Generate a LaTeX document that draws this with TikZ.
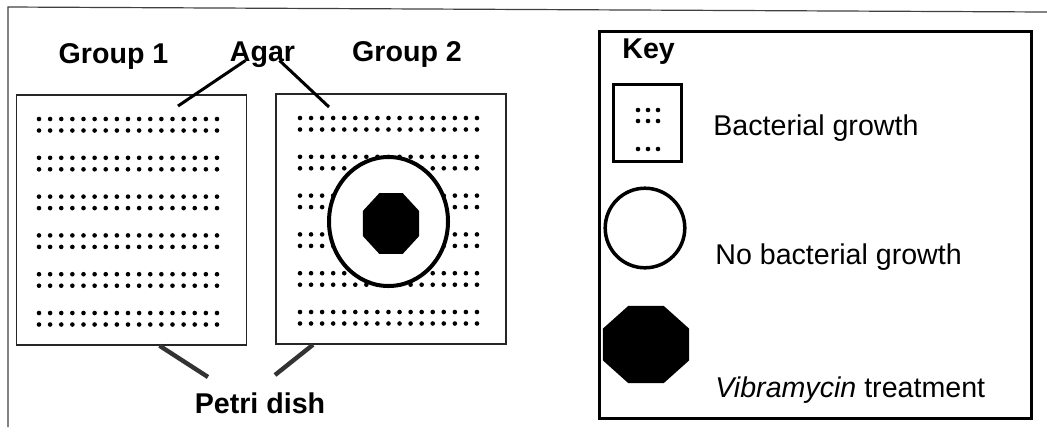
\documentclass[tikz,border=0pt]{standalone}
\usepackage{fontspec}
\setmainfont{Liberation Sans}
\usetikzlibrary{positioning, shapes.geometric}
\tikzset{dish node/.style={rectangle, draw=black!85, line width=0.7pt, minimum width=115pt, minimum height=125pt, inner sep=0pt},
  big label/.style={font=\fontsize{14.3}{17}\selectfont\bfseries, anchor=base, inner sep=0pt},
  key text/.style={font=\fontsize{14.3}{17}\selectfont, anchor=base west, inner sep=0pt},
  clear zone/.style={ellipse, draw, fill=white, line width=2pt, inner sep=0pt},
  drug/.style={regular polygon, regular polygon sides=8, fill=black, inner sep=0pt},
  pointer/.style={line width=1.5pt},
  dish pointer/.style={draw=black!80, line width=2.2pt},
  frame line/.style={draw=black!75, line width=0.6pt},}

\begin{document}
\begin{tikzpicture}[x=0.5pt, y=0.5pt]
        \useasboundingbox (0,0) rectangle (1047,-435);
        % Frame
        \draw[frame line] (1047,-12) -- (8,-7) -- (8,-427);
        % Petri dishes
        \node[dish node] (dish1) at (131.5,-220) {};
        \node[dish node] (dish2) at (391,-219) {};
        % Bacteria
        \foreach \r in {0,...,5}
          \foreach \s in {0,1}
            \foreach \i in {0,...,16} {
              \fill (39+11.125*\i, -119-38.8*\r-11.5*\s) circle (2.3);
              \fill (300+11.06*\i, -118-38.8*\r-11.5*\s) circle (2.3);
            }
        % Treatment
        \node[clear zone, minimum width=59.5pt, minimum height=64.5pt] (zone) at (388.5,-221.5) {};
        \node[drug, minimum size=33pt, xscale=0.92] (drug) at (391,-223.5) {};
        % Labels
        \node[big label] (group1) at (113.5,-63) {Group 1};
        \node[big label] (group2) at (407,-61.5) {Group 2};
        \node[big label] (agar) at (262.5,-61.5) {Agar};
        \node[big label] (petri) at (260,-413) {Petri dish};
        % Pointers
        \coordinate (agar1) at (178,-106);
        \coordinate (agar2) at (329,-107);
        \draw[pointer] ([xshift=-8.5pt,yshift=0.5pt]agar.base) -- (agar1);
        \draw[pointer] ([xshift=8.5pt,yshift=0.5pt]agar.base) -- (agar2);
        \draw[dish pointer] ([xshift=14pt]dish1.south) -- ([xshift=-26pt,yshift=18pt]petri.base);
        \draw[dish pointer] ([xshift=-39pt]dish2.south) -- ([xshift=7.5pt,yshift=19pt]petri.base);
        % Key
        \node[draw, line width=1.5pt, minimum width=216pt, minimum height=193.5pt, inner sep=0pt] (key) at (815.5,-225) {};
        \node[big label, anchor=base west] (keytitle) at (622,-58) {Key};
        \node[draw, line width=1.5pt, minimum width=34pt, minimum height=38.5pt, inner sep=0pt] (swatch1) at (647.5,-123) {};
        \foreach \x in {638,648,658}
          \foreach \y in {110,121,149}
            \fill (\x,-\y) circle (2.3);
        \node[key text] (text1) at (713,-135) {Bacterial growth};
        \node[circle, draw, line width=1.75pt, minimum size=39.8pt, inner sep=0pt] (swatch2) at (645,-228) {};
        \node[key text] (text2) at (715,-264) {No bacterial growth};
        \node[drug, minimum size=41.7pt, xscale=1.117] (swatch3) at (646,-344.5) {};
        \node[key text] (text3) at (715,-397) {\textit{Vibramycin} treatment};
    \end{tikzpicture}
\end{document}
